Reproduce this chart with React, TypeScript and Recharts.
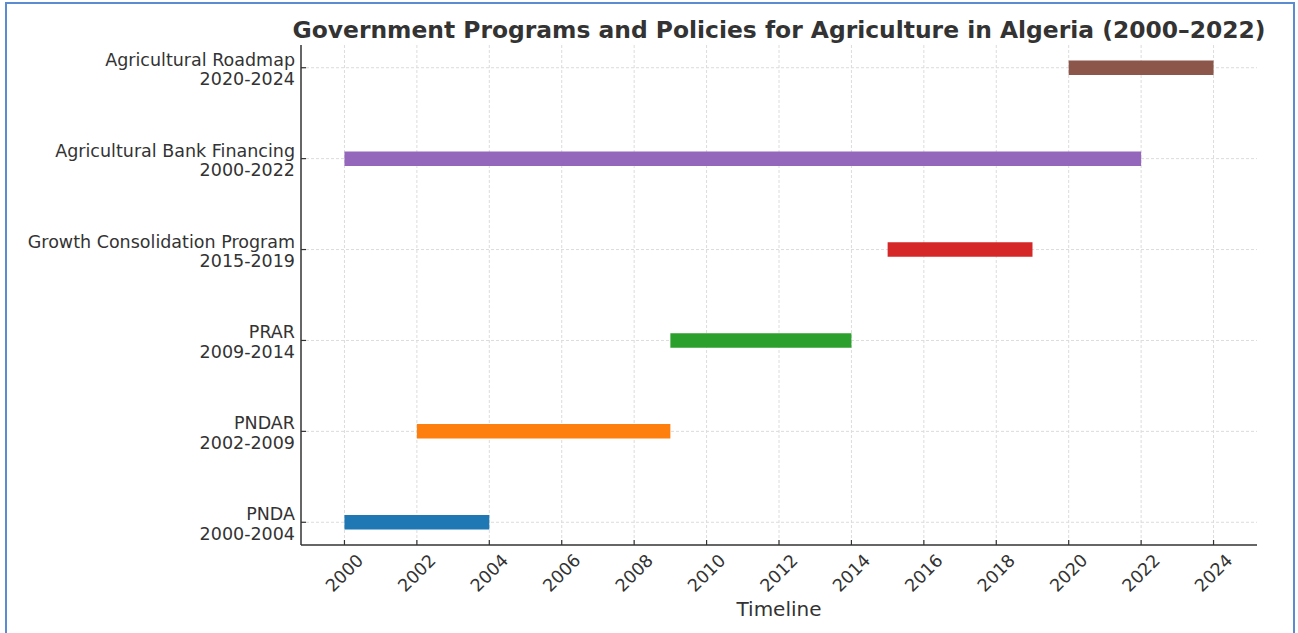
import React from "react";
import { ComposedChart, Line, XAxis, YAxis, CartesianGrid } from "recharts";

const programNames = [
  "PNDA",
  "PNDAR",
  "PRAR",
  "Growth Consolidation Program",
  "Agricultural Bank Financing",
  "Agricultural Roadmap",
];
const startYears = [2000, 2002, 2009, 2015, 2000, 2020];
const endYears = [2004, 2009, 2014, 2019, 2022, 2024];
const colors = ["#1f77b4", "#ff7f0e", "#2ca02c", "#d62728", "#9467bd", "#8c564b"];
const xTicks = [2000, 2002, 2004, 2006, 2008, 2010, 2012, 2014, 2016, 2018, 2020, 2022, 2024];
const yTicks = [0, 1, 2, 3, 4, 5];
const xDomain: [number, number] = [1998.8, 2025.2];
const yDomain: [number, number] = [-0.25, 5.25];

const FONT = "DejaVu Sans, sans-serif";
const TXT = "#333";
const TICK_FS = 17.5;

const YTick = (props: any) => {
  const { x, y, payload } = props;
  const i = payload.value as number;
  const label2 = `${startYears[i]}-${endYears[i]}`;
  return (
    <g>
      <line x1={x + 6} y1={y} x2={x + 11} y2={y} stroke="#333" strokeWidth={1.2} />
      <text x={x} y={y - 8} textAnchor="end" dominantBaseline="central" fontFamily={FONT} fontSize={TICK_FS} fill={TXT}>
        {programNames[i]}
      </text>
      <text x={x} y={y + 11.5} textAnchor="end" dominantBaseline="central" fontFamily={FONT} fontSize={TICK_FS} fill={TXT}>
        {label2}
      </text>
    </g>
  );
};

const XTick = (props: any) => {
  const { x, y, payload } = props;
  const cy = y + 28;
  return (
    <g>
      <line x1={x} y1={y} x2={x} y2={y - 5} stroke="#333" strokeWidth={1.2} />
      <text
        x={x}
        y={cy}
        textAnchor="middle"
        dominantBaseline="central"
        fontFamily={FONT}
        fontSize={TICK_FS}
        fill={TXT}
        transform={`rotate(-45 ${x} ${cy})`}
      >
        {payload.value}
      </text>
    </g>
  );
};

const hGen = (p: any) => {
  const o = p.offset;
  return yTicks.map((t) => o.top + ((yDomain[1] - t) / (yDomain[1] - yDomain[0])) * o.height);
};
const vGen = (p: any) => {
  const o = p.offset;
  return xTicks.map((t) => o.left + ((t - xDomain[0]) / (xDomain[1] - xDomain[0])) * o.width);
};

export default function App() {
  return (
    <div style={{ position: "absolute", left: 0, top: 0, width: 1298, height: 633, background: "#fff", overflow: "hidden" }}>
      <div
        style={{
          position: "absolute",
          left: 5,
          top: 2,
          width: 1286,
          height: 700,
          border: "2px solid #5b8bd0",
        }}
      />
      <div
        style={{
          position: "absolute",
          left: 279,
          top: 15,
          width: 1000,
          textAlign: "center",
          fontFamily: FONT,
          fontWeight: "bold",
          fontSize: 23.4,
          lineHeight: "30px",
          color: "#333",
        }}
      >
        Government Programs and Policies for Agriculture in Algeria (2000–2022)
      </div>
      <div style={{ position: "absolute", left: 0, top: 0 }}>
        <ComposedChart width={1298} height={633} margin={{ top: 45, right: 41, bottom: 0, left: 5 }}>
          <CartesianGrid
            stroke="#dcdcdc"
            strokeDasharray="3 2"
            horizontalCoordinatesGenerator={hGen}
            verticalCoordinatesGenerator={vGen}
          />
          <XAxis
            type="number"
            dataKey="x"
            domain={xDomain}
            ticks={xTicks}
            allowDataOverflow
            height={88}
            tickSize={0}
            tickMargin={0}
            tickLine={false}
            axisLine={{ stroke: "#333", strokeWidth: 1.5 }}
            tick={<XTick />}
            interval={0}
            label={{ value: "Timeline", position: "insideBottom", offset: 17, fontFamily: FONT, fontSize: 20, fill: TXT }}
          />
          <YAxis
            type="number"
            dataKey="y"
            domain={yDomain}
            ticks={yTicks}
            allowDataOverflow
            width={296}
            tickSize={0}
            tickMargin={6}
            tickLine={false}
            axisLine={{ stroke: "#333", strokeWidth: 1.5 }}
            tick={<YTick />}
            interval={0}
          />
          {programNames.map((name, i) => (
            <Line
              key={name}
              name={name}
              data={[
                { x: startYears[i], y: i },
                { x: endYears[i], y: i },
              ]}
              dataKey="y"
              stroke={colors[i]}
              strokeWidth={14.5}
              strokeLinecap="butt"
              dot={false}
              activeDot={false}
              isAnimationActive={false}
            />
          ))}
        </ComposedChart>
      </div>
    </div>
  );
}
